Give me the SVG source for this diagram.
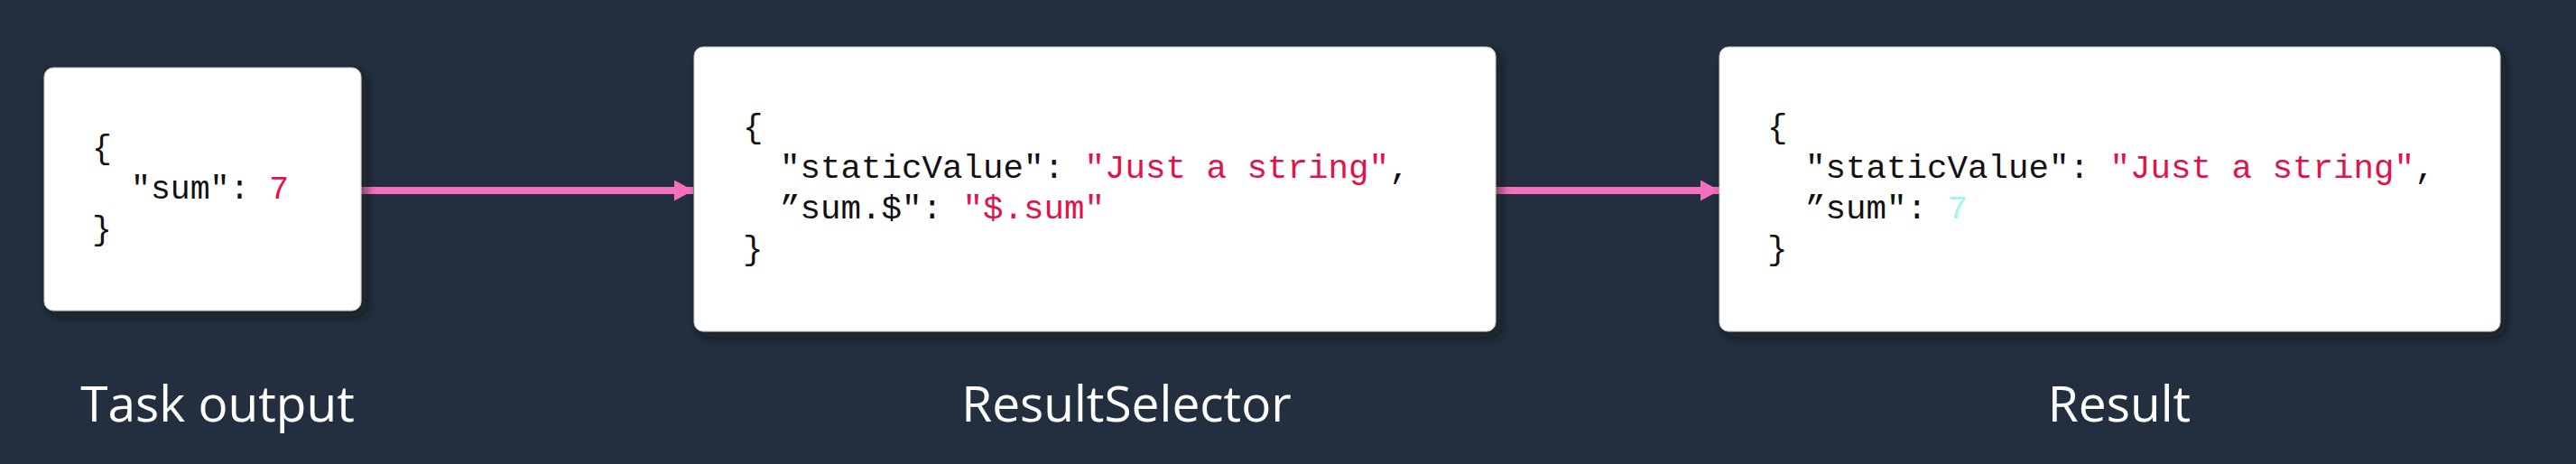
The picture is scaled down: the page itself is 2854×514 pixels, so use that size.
<svg xmlns="http://www.w3.org/2000/svg" width="2854" height="514" viewBox="0 0 2854 514">
  <style>
    .box { fill: #ffffff; stroke: #c8c8c8; stroke-width: 1; filter: url(#shadow); }
    .code { font-family: "Liberation Mono", "Courier New", monospace; font-size: 37.5px; fill: #111111; }
    .small { font-size: 36.5px; }
    .str { fill: #e0134a; }
    .num { fill: #e0134a; }
    .num2 { fill: #a3f5ec; }
    .label { font-family: "Open Sans", "Noto Sans", sans-serif; font-size: 55px; fill: #ffffff; text-anchor: middle; }
    .conn { stroke: #f56fbf; stroke-width: 8; fill: none; }
  </style>
  <defs>
    <filter id="shadow" x="-10%" y="-10%" width="125%" height="130%">
      <feDropShadow dx="5" dy="6" stdDeviation="6" flood-color="#0b1118" flood-opacity="0.6"/>
    </filter>
    <marker id="arrow" markerWidth="21" markerHeight="23" refX="21" refY="11.5" orient="auto" markerUnits="userSpaceOnUse">
      <path d="M0,0 L21,11.5 L0,23 Z" fill="#f56fbf"/>
    </marker>
  </defs>
  <rect x="0" y="0" width="2854" height="514" fill="#232f3e"/>

  <g id="connectors">
    <line class="conn" x1="400" y1="211" x2="768" y2="211" marker-end="url(#arrow)"/>
    <line class="conn" x1="1657" y1="211" x2="1905" y2="211" marker-end="url(#arrow)"/>
  </g>

  <g id="task-output">
    <rect class="box" x="49" y="75" width="351" height="269" rx="10" ry="10"/>
    <text class="code small" x="102" y="175">{</text>
    <text class="code small" x="145" y="220">"sum": <tspan class="num">7</tspan></text>
    <text class="code small" x="102" y="265">}</text>
    <text class="label" x="241" y="467">Task output</text>
  </g>

  <g id="result-selector">
    <rect class="box" x="769" y="52" width="888" height="315" rx="10" ry="10"/>
    <text class="code" x="823" y="152">{</text>
    <text class="code" x="864" y="197">"staticValue": <tspan class="str">"Just a string"</tspan>,</text>
    <text class="code" x="864" y="242">”sum.$": <tspan class="str">"$.sum"</tspan></text>
    <text class="code" x="823" y="287">}</text>
    <text class="label" x="1248" y="467">ResultSelector</text>
  </g>

  <g id="result">
    <rect class="box" x="1905" y="52" width="865" height="315" rx="10" ry="10"/>
    <text class="code" x="1958" y="152">{</text>
    <text class="code" x="2000" y="197">"staticValue": <tspan class="str">"Just a string"</tspan>,</text>
    <text class="code" x="2000" y="242">”sum": <tspan class="num2">7</tspan></text>
    <text class="code" x="1958" y="287">}</text>
    <text class="label" x="2348" y="467">Result</text>
  </g>
</svg>
